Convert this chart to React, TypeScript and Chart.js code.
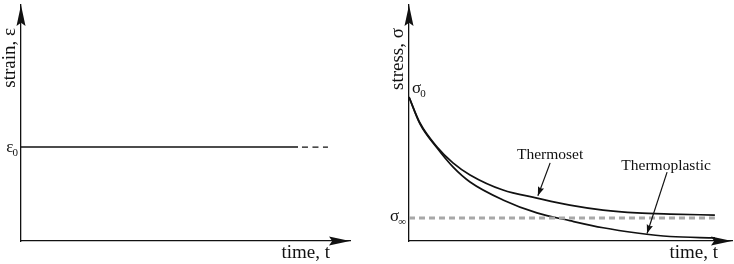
import React, { useEffect, useRef } from 'react';
import { Chart, registerables } from 'chart.js';
Chart.register(...registerables);

const FONT = '"Liberation Serif", "Times New Roman", serif';

// ---- Left panel: constant strain ----
const strainLevel = 39.8;
const strainSolidX = [0, 84.2];
const strainDashX = [85.4, 93.3];

// ---- Right panel: stress relaxation ----
const timePoints = [0, 3.4, 8.7, 13.6, 18.9, 29.1, 39.6, 49.8, 60.1, 70.6, 80.8, 94.7];
const thermosetStress = [61.0, 50.0, 39.8, 33.1, 28.0, 21.6, 18.2, 15.2, 13.1, 11.9, 11.4, 11.0];
const thermoplasticStress = [61.0, 49.6, 39.4, 31.4, 25.0, 17.4, 11.9, 8.6, 5.6, 3.4, 1.9, 1.3];
const sigmaInf = 9.7;
const sigmaInfX = [0, 94.7];

type Pt = { x: number; y: number };

function arrowHead(ctx: CanvasRenderingContext2D, x: number, y: number, ang: number, len: number, hw: number) {
  ctx.save();
  ctx.translate(x, y);
  ctx.rotate(ang);
  ctx.beginPath();
  ctx.moveTo(0, 0);
  ctx.lineTo(-len, -hw);
  ctx.lineTo(-len * 0.85, 0);
  ctx.lineTo(-len, hw);
  ctx.closePath();
  ctx.fill();
  ctx.restore();
}

function subLabel(ctx: CanvasRenderingContext2D, main: string, sub: string, x: number, y: number, align: string) {
  ctx.save();
  ctx.textBaseline = 'alphabetic';
  ctx.textAlign = 'left';
  ctx.font = `17px ${FONT}`;
  const mw = ctx.measureText(main).width;
  ctx.font = `11px ${FONT}`;
  const sw = ctx.measureText(sub).width;
  const x0 = align === 'right' ? x - mw - sw + 1 : x;
  ctx.font = `17px ${FONT}`;
  ctx.fillText(main, x0, y);
  ctx.font = `11px ${FONT}`;
  ctx.fillText(sub, x0 + mw - 1, y + 4);
  ctx.restore();
}

const decorPlugin = {
  id: 'decor',
  afterDraw(chart: any, _args: any, opts: any) {
    const { ctx, chartArea: a, scales } = chart;
    const xs = scales.x;
    const ys = scales.y;
    ctx.save();
    ctx.fillStyle = '#111';
    ctx.strokeStyle = '#111';
    arrowHead(ctx, a.left, a.top, -Math.PI / 2, 21, 4.5);
    arrowHead(ctx, a.right, a.bottom, 0, 21, 4.5);

    ctx.font = `19px ${FONT}`;
    ctx.textAlign = 'right';
    ctx.textBaseline = 'alphabetic';
    ctx.fillText(opts.xTitle, a.right - opts.xTitleInset, a.bottom + 17);

    ctx.save();
    ctx.translate(a.left - 11, a.top + 23);
    ctx.rotate(-Math.PI / 2);
    ctx.textAlign = 'right';
    ctx.textBaseline = 'middle';
    ctx.fillText(opts.yTitle, 0, 0);
    ctx.restore();

    for (const l of opts.levels || []) {
      const py = ys.getPixelForValue(l.value);
      const px = l.align === 'right' ? a.left - 3 : a.left + 3;
      subLabel(ctx, l.main, l.sub, px, py + l.dy, l.align);
    }

    for (const n of opts.notes || []) {
      ctx.font = `15.5px ${FONT}`;
      ctx.textAlign = 'center';
      ctx.textBaseline = 'middle';
      ctx.fillText(n.text, xs.getPixelForValue(n.x), ys.getPixelForValue(n.y));
      const x1 = xs.getPixelForValue(n.from[0]);
      const y1 = ys.getPixelForValue(n.from[1]);
      const x2 = xs.getPixelForValue(n.to[0]);
      const y2 = ys.getPixelForValue(n.to[1]);
      ctx.lineWidth = 1.2;
      ctx.beginPath();
      ctx.moveTo(x1, y1);
      ctx.lineTo(x2, y2);
      ctx.stroke();
      arrowHead(ctx, x2, y2, Math.atan2(y2 - y1, x2 - x1), 9, 3.2);
    }
    ctx.restore();
  },
};

function baseOptions(padLeft: number, padRight: number, decor: any) {
  const axis = {
    type: 'linear',
    min: 0,
    max: 100,
    grid: { display: true, drawOnChartArea: false, drawTicks: false },
    border: { display: true, color: '#111', width: 1.3 },
    ticks: { display: false },
    title: { display: false },
    afterFit(s: any) {
      if (s.isHorizontal()) s.height = 0;
      else s.width = 0;
    },
  };
  return {
    responsive: false,
    animation: false,
    devicePixelRatio: 1,
    layout: { padding: { left: padLeft, right: padRight, top: 5, bottom: 23 } },
    plugins: { legend: { display: false }, tooltip: { enabled: false }, decor },
    scales: { x: { ...axis }, y: { ...axis } },
    elements: { point: { radius: 0 } },
  };
}

function line(xs: number[], ys: number[]): Pt[] {
  return xs.map((x, i) => ({ x, y: ys[i] }));
}

function StrainChart() {
  const ref = useRef<HTMLCanvasElement>(null);
  useEffect(() => {
    const chart = new Chart(ref.current as HTMLCanvasElement, {
      type: 'line',
      data: {
        datasets: [
          { data: line(strainSolidX, strainSolidX.map(() => strainLevel)), borderColor: '#111', borderWidth: 1.4 },
          { data: line(strainDashX, strainDashX.map(() => strainLevel)), borderColor: '#111', borderWidth: 1.2, borderDash: [6, 4.5] },
        ],
      },
      options: baseOptions(21, 17, {
        xTitle: 'time, t',
        xTitleInset: 20,
        yTitle: 'strain, ε',
        levels: [{ main: 'ε', sub: '0', value: strainLevel, align: 'right', dy: 5 }],
        notes: [],
      }) as any,
      plugins: [decorPlugin],
    });
    return () => chart.destroy();
  }, []);
  return <canvas ref={ref} width={367} height={264} style={{ display: 'block' }} />;
}

function StressChart() {
  const ref = useRef<HTMLCanvasElement>(null);
  useEffect(() => {
    const chart = new Chart(ref.current as HTMLCanvasElement, {
      type: 'line',
      data: {
        datasets: [
          { data: line(sigmaInfX, sigmaInfX.map(() => sigmaInf)), borderColor: '#a8a8a8', borderWidth: 3, borderDash: [6, 4] },
          { data: line(timePoints, thermosetStress), borderColor: '#111', borderWidth: 1.7, cubicInterpolationMode: 'monotone' },
          { data: line(timePoints, thermoplasticStress), borderColor: '#111', borderWidth: 1.7, cubicInterpolationMode: 'monotone' },
        ],
      },
      options: baseOptions(42, 2, {
        xTitle: 'time, t',
        xTitleInset: 14,
        yTitle: 'stress, σ',
        levels: [
          { main: 'σ', sub: '0', value: thermosetStress[0], align: 'left', dy: -4 },
          { main: 'σ', sub: '∞', value: sigmaInf, align: 'right', dy: 3 },
        ],
        notes: [
          { text: 'Thermoset', x: 43.7, y: 36.4, from: [43.7, 33.1], to: [39.9, 19.2] },
          { text: 'Thermoplastic', x: 79.6, y: 31.8, from: [79.9, 29.2], to: [73.7, 3.2] },
        ],
      }) as any,
      plugins: [decorPlugin],
    });
    return () => chart.destroy();
  }, []);
  return <canvas ref={ref} width={367} height={264} style={{ display: 'block' }} />;
}

export default function App() {
  return (
    <div style={{ position: 'fixed', left: 0, top: 0, width: 734, height: 264, display: 'flex', background: '#fff' }}>
      <StrainChart />
      <StressChart />
    </div>
  );
}
